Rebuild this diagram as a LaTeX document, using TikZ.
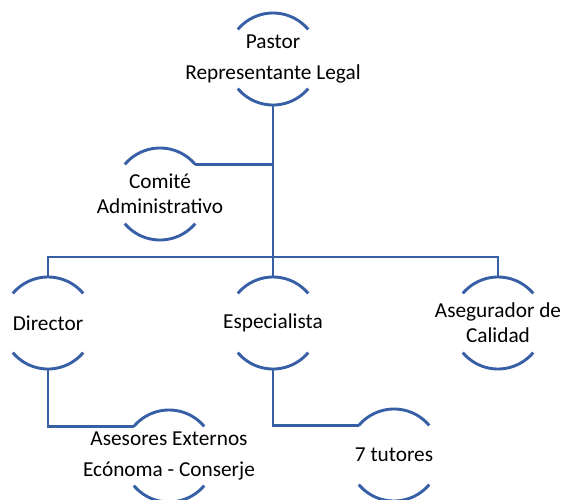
\documentclass[tikz,border=0pt]{standalone}
\usepackage{fontspec}
\setmainfont{Carlito}
\usetikzlibrary{calc}

\definecolor{orgblue}{RGB}{55,95,165}

\begin{document}
\begin{tikzpicture}[x=1pt, y=1pt,
	orb/.style={align=center, inner sep=0pt, font=\fontsize{21.3}{25}\selectfont},
	link/.style={orgblue, line width=2.9pt},
	rim/.style={orgblue, line width=2.9pt}]
	\useasboundingbox (0,0) rectangle (563,-499);
	\clip (0,0) rectangle (563,-499);

	%circles
	\node[orb] (pastor) at (273,-59) {Pastor\\[6pt]Representante Legal};
	\node[orb] (comite) at (160,-194) {Comité\\Administrativo};
	\node[orb] (director) at (48,-323) {Director};
	\node[orb] (especialista) at (273,-323) {Especialista};
	\node[orb] (asegurador) at (498,-323) {Asegurador de\\Calidad};
	\node[orb] (asesores) at (169,-456) {Asesores Externos\\[6pt]Ecónoma - Conserje};
	\node[orb] (tutores) at (394,-455) {7 tutores};

	%arcs and ends
	\foreach \n in {pastor, comite, director, especialista, asegurador, asesores, tutores}{
		\draw[rim] ([shift={(40:46)}]\n.center) arc[start angle=40, end angle=140, radius=46];
		\draw[rim] ([shift={(220:46)}]\n.center) arc[start angle=220, end angle=320, radius=46];
		\coordinate (\n-n) at ([yshift=46pt]\n.center);
		\coordinate (\n-s) at ([yshift=-46pt]\n.center);
		\coordinate (\n-ne) at ([shift={(40:46)}]\n.center);
		\coordinate (\n-nw) at ([shift={(140:46)}]\n.center);
	}
	\coordinate (bus) at (273,-257);

	%connectors
	\draw[link] (pastor-s) -- (bus);
	\draw[link] (comite-ne) -- (comite-ne -| pastor);
	\draw[link] (director-n) |- (bus) -| (asegurador-n);
	\draw[link] (bus) -- (especialista-n);
	\draw[link] (director-s) |- (asesores-nw);
	\draw[link] (especialista-s) |- (tutores-nw);
\end{tikzpicture}
\end{document}
